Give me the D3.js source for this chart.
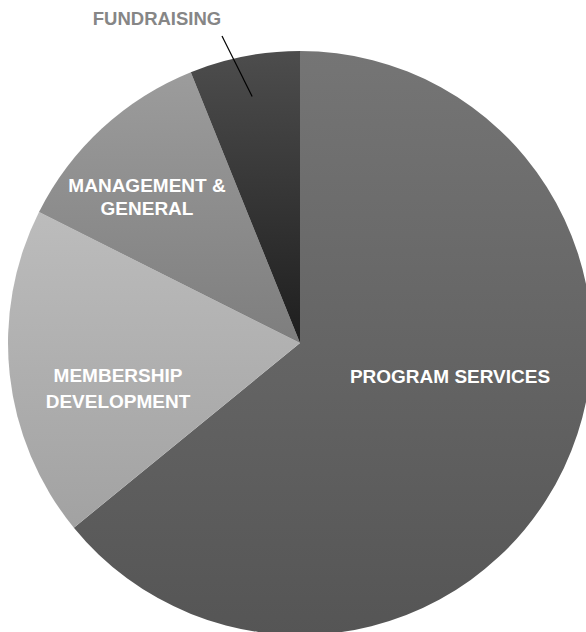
<!DOCTYPE html>
<html>
<head>
<meta charset="utf-8">
<script src="https://cdn.jsdelivr.net/npm/d3@7"></script>
<style>
  body { margin: 0; background: #fff; }
  svg { display: block; }
  text { font-family: "Liberation Sans", Arial, Helvetica, sans-serif; font-weight: bold; }
</style>
</head>
<body>
<svg id="chart" width="586" height="632"></svg>
<script>
// data (percent of expenses)
var categories = ["PROGRAM SERVICES", "MEMBERSHIP DEVELOPMENT", "MANAGEMENT & GENERAL", "FUNDRAISING"];
var values = [64.1, 18.3, 11.5, 6.1];
var labelLines = [["PROGRAM SERVICES"], ["MEMBERSHIP", "DEVELOPMENT"], ["MANAGEMENT &", "GENERAL"], ["FUNDRAISING"]];

// gradient top / bottom colours per slice
var topColors = ["#757575", "#bcbcbc", "#9c9c9c", "#4d4d4d"];
var botColors = ["#555555", "#a2a2a2", "#7e7e7e", "#1e1e1e"];

var W = 586, H = 632;
var cx = 300, cy = 343, R = 292;

// label anchor points (layout only)
var labelPos = [[450, 383], [118, 382], [147, 192], [157, 25]];
var lineH = [0, 26, 23, 0];
var leaderEnd = [222, 36];

var svg = d3.select("#chart");
var defs = svg.append("defs");

categories.forEach(function(c, i) {
    var g = defs.append("linearGradient")
        .attr("id", "grad" + i)
        .attr("x1", 0).attr("y1", 0)
        .attr("x2", 0).attr("y2", 1);
    g.append("stop").attr("offset", "0%").attr("stop-color", topColors[i]);
    g.append("stop").attr("offset", "100%").attr("stop-color", botColors[i]);
});

var pie = d3.pie().sort(null).value(function(d) { return d; });
var arcs = pie(values);
var arc = d3.arc().innerRadius(0).outerRadius(R);

var g = svg.append("g").attr("transform", "translate(" + cx + "," + cy + ")");

g.selectAll("path.slice")
    .data(arcs)
    .enter().append("path")
    .attr("class", "slice")
    .attr("d", arc)
    .attr("fill", function(d, i) { return "url(#grad" + i + ")"; });

// leader line for the small slice
var innerPt = d3.arc().innerRadius(R * 0.86).outerRadius(R * 0.86).centroid(arcs[3]);
svg.append("line")
    .attr("x1", cx + innerPt[0]).attr("y1", cy + innerPt[1])
    .attr("x2", leaderEnd[0]).attr("y2", leaderEnd[1])
    .attr("stroke", "#000")
    .attr("stroke-width", 1.2);

// labels
labelLines.forEach(function(lines, i) {
    var t = svg.append("text")
        .attr("x", labelPos[i][0])
        .attr("y", labelPos[i][1])
        .attr("text-anchor", "middle")
        .attr("font-size", i == 3 ? 18.5 : 19)
        .attr("fill", i == 3 ? "#868686" : "#fff");
    lines.forEach(function(s, j) {
        t.append("tspan")
            .attr("x", labelPos[i][0])
            .attr("dy", j == 0 ? 0 : lineH[i])
            .text(s);
    });
});
</script>
</body>
</html>
